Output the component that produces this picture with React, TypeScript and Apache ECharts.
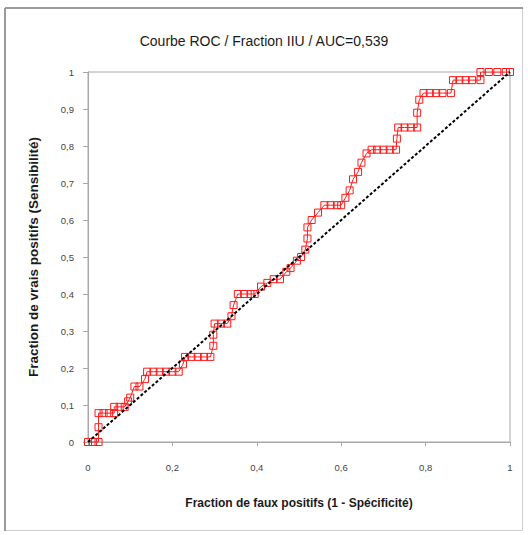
import React, { useEffect, useRef } from "react";
import * as echarts from "echarts";

const TITLE = "Courbe ROC / Fraction IIU / AUC=0,539";
const X_NAME = "Fraction de faux positifs (1 - Spécificité)";
const Y_NAME = "Fraction de vrais positifs (Sensibilité)";

// ROC curve points: false positive fraction (x), true positive fraction (y)
const fpr = [
  0, 0.012, 0.025, 0.025, 0.025, 0.037, 0.05, 0.062, 0.062, 0.075, 0.087,
  0.095, 0.1, 0.11, 0.122, 0.135, 0.14, 0.155, 0.17, 0.185, 0.2, 0.215,
  0.225, 0.23, 0.245, 0.26, 0.275, 0.29, 0.297, 0.297, 0.3, 0.315, 0.33,
  0.34, 0.345, 0.355, 0.37, 0.385, 0.395, 0.41, 0.425, 0.44, 0.455,
  0.47, 0.48, 0.495, 0.505, 0.515, 0.52, 0.52, 0.53, 0.545, 0.56, 0.575, 0.59, 0.6,
  0.61, 0.62, 0.628, 0.64, 0.648, 0.66, 0.672, 0.685, 0.7, 0.715, 0.73,
  0.732, 0.735, 0.75, 0.765, 0.78, 0.78, 0.785, 0.795, 0.81, 0.825, 0.84, 0.86,
  0.865, 0.88, 0.895, 0.91, 0.93, 0.93, 0.95, 0.97, 0.99, 1,
];
const tpr = [
  0, 0, 0, 0.04, 0.078, 0.078, 0.078, 0.078, 0.095, 0.095, 0.095,
  0.11, 0.12, 0.15, 0.15, 0.17, 0.19, 0.19, 0.19, 0.19, 0.19, 0.19,
  0.21, 0.23, 0.23, 0.23, 0.23, 0.23, 0.26, 0.29, 0.32, 0.32, 0.32,
  0.34, 0.37, 0.4, 0.4, 0.4, 0.4, 0.42, 0.43, 0.44, 0.44,
  0.46, 0.47, 0.49, 0.5, 0.52, 0.55, 0.58, 0.6, 0.62, 0.64, 0.64, 0.64, 0.64,
  0.66, 0.68, 0.71, 0.73, 0.755, 0.78, 0.79, 0.79, 0.79, 0.79, 0.79,
  0.82, 0.85, 0.85, 0.85, 0.85, 0.89, 0.925, 0.943, 0.943, 0.943, 0.943, 0.943,
  0.978, 0.978, 0.978, 0.978, 0.978, 1, 1, 1, 1, 1,
];

// Random-classifier diagonal
const diagX = [0, 1];
const diagY = [0, 1];

const fmt = (v: number) => String(Math.round(v * 10) / 10).replace(".", ",");

export default function App() {
  const ref = useRef<HTMLDivElement>(null);
  useEffect(() => {
    if (!ref.current) return;
    const chart = echarts.init(ref.current, undefined, { renderer: "svg" });
    const font = "Liberation Sans, Arial, sans-serif";
    chart.setOption({
      animation: false,
      backgroundColor: "#ffffff",
      title: {
        text: TITLE,
        left: "center",
        top: 29,
        textStyle: { fontFamily: font, fontSize: 14, fontWeight: "normal", color: "#1a1a1a" },
      },
      graphic: [
        {
          type: "rect",
          shape: { x: 5.5, y: 8.5, width: 517, height: 522 },
          style: { fill: "none", stroke: "#cfcfcf", lineWidth: 1 },
          silent: true,
        },
        { type: "line", shape: { x1: 5, y1: 8, x2: 523, y2: 8 }, style: { stroke: "#9a9a9a", lineWidth: 2 }, silent: true },
        { type: "line", shape: { x1: 5, y1: 8, x2: 5, y2: 531 }, style: { stroke: "#9a9a9a", lineWidth: 2 }, silent: true },
      ],
      grid: {
        left: 88,
        top: 72,
        right: 18,
        bottom: 93,
        show: true,
        borderColor: "#a8a8a8",
        borderWidth: 1,
      },
      xAxis: {
        type: "value",
        min: 0,
        max: 1,
        interval: 0.2,
        name: X_NAME,
        nameLocation: "middle",
        nameGap: 55,
        nameTextStyle: { fontFamily: font, fontSize: 12, fontWeight: "bold", color: "#1a1a1a" },
        axisLine: { show: true, lineStyle: { color: "#a8a8a8" } },
        axisTick: { show: true, length: 4, lineStyle: { color: "#a8a8a8" } },
        axisLabel: { margin: 20, fontFamily: font, fontSize: 9.5, color: "#444", formatter: fmt },
        splitLine: { show: false },
      },
      yAxis: {
        type: "value",
        min: 0,
        max: 1,
        interval: 0.1,
        name: Y_NAME,
        nameLocation: "middle",
        nameGap: 48,
        nameTextStyle: { fontFamily: font, fontSize: 13.5, fontWeight: "bold", color: "#1a1a1a" },
        axisLine: { show: true, lineStyle: { color: "#a8a8a8" } },
        axisTick: { show: true, length: 5, lineStyle: { color: "#a8a8a8" } },
        axisLabel: { margin: 14, fontFamily: font, fontSize: 9.5, color: "#444", formatter: fmt },
        splitLine: { show: false },
      },
      series: [
        {
          type: "line",
          data: fpr.map((x, i) => [x, tpr[i]]),
          symbol: "rect",
          symbolSize: 7,
          itemStyle: { color: "rgba(255,255,255,0)", borderColor: "#ff1a1a", borderWidth: 1 },
          lineStyle: { color: "#ff1a1a", width: 1 },
          z: 2,
        },
        {
          type: "line",
          data: diagX.map((x, i) => [x, diagY[i]]),
          symbol: "none",
          lineStyle: { color: "#000", width: 2, type: [3, 2] },
          z: 3,
        },
      ],
    });
    return () => chart.dispose();
  }, []);
  return (
    <div
      ref={ref}
      style={{ position: "fixed", left: 0, top: 0, width: 528, height: 535 }}
    />
  );
}
